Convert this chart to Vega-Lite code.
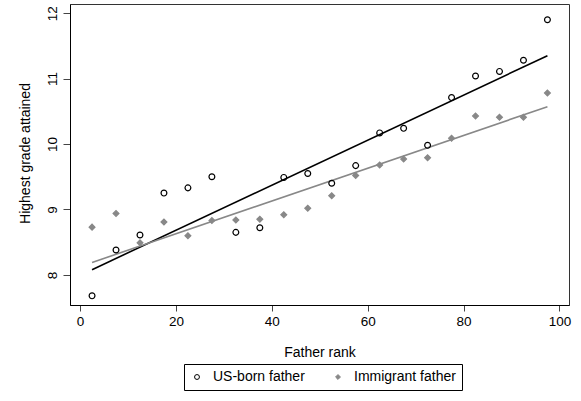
{
  "$schema": "https://vega.github.io/schema/vega-lite/v6.json",
  "width": 499,
  "height": 301,
  "autosize": {"type": "none"},
  "padding": {"left": 70, "top": 4, "right": 12, "bottom": 96},
  "background": "white",
  "config": {
    "view": {"stroke": "#333333", "strokeWidth": 1},
    "font": "Liberation Sans",
    "axis": {
      "grid": false,
      "labelFont": "Liberation Sans",
      "titleFont": "Liberation Sans",
      "labelFontSize": 13.5,
      "titleFontSize": 14,
      "titleFontWeight": "normal",
      "labelColor": "#000000",
      "titleColor": "#000000",
      "domainColor": "#000000",
      "tickColor": "#444444",
      "domainWidth": 1,
      "tickWidth": 1,
      "labelFlush": false,
      "labelOverlap": false
    },
    "legend": {
      "direction": "horizontal",
      "padding": 6,
      "strokeColor": "#000000",
      "cornerRadius": 0,
      "labelFont": "Liberation Sans",
      "labelFontSize": 14,
      "labelColor": "#000000",
      "labelOffset": 9,
      "columnPadding": 26,
      "symbolSize": 24,
      "symbolStrokeWidth": 1
    }
  },
  "datasets": {
    "points": [
      {"rank": 2.5, "grade": 7.68, "series": "US-born father"},
      {"rank": 7.5, "grade": 8.38, "series": "US-born father"},
      {"rank": 12.5, "grade": 8.61, "series": "US-born father"},
      {"rank": 17.5, "grade": 9.25, "series": "US-born father"},
      {"rank": 22.5, "grade": 9.33, "series": "US-born father"},
      {"rank": 27.5, "grade": 9.50, "series": "US-born father"},
      {"rank": 32.5, "grade": 8.65, "series": "US-born father"},
      {"rank": 37.5, "grade": 8.72, "series": "US-born father"},
      {"rank": 42.5, "grade": 9.49, "series": "US-born father"},
      {"rank": 47.5, "grade": 9.55, "series": "US-born father"},
      {"rank": 52.5, "grade": 9.40, "series": "US-born father"},
      {"rank": 57.5, "grade": 9.67, "series": "US-born father"},
      {"rank": 62.5, "grade": 10.17, "series": "US-born father"},
      {"rank": 67.5, "grade": 10.24, "series": "US-born father"},
      {"rank": 72.5, "grade": 9.98, "series": "US-born father"},
      {"rank": 77.5, "grade": 10.71, "series": "US-born father"},
      {"rank": 82.5, "grade": 11.04, "series": "US-born father"},
      {"rank": 87.5, "grade": 11.11, "series": "US-born father"},
      {"rank": 92.5, "grade": 11.28, "series": "US-born father"},
      {"rank": 97.5, "grade": 11.90, "series": "US-born father"},
      {"rank": 2.5, "grade": 8.73, "series": "Immigrant father"},
      {"rank": 7.5, "grade": 8.94, "series": "Immigrant father"},
      {"rank": 12.5, "grade": 8.49, "series": "Immigrant father"},
      {"rank": 17.5, "grade": 8.81, "series": "Immigrant father"},
      {"rank": 22.5, "grade": 8.60, "series": "Immigrant father"},
      {"rank": 27.5, "grade": 8.83, "series": "Immigrant father"},
      {"rank": 32.5, "grade": 8.84, "series": "Immigrant father"},
      {"rank": 37.5, "grade": 8.85, "series": "Immigrant father"},
      {"rank": 42.5, "grade": 8.92, "series": "Immigrant father"},
      {"rank": 47.5, "grade": 9.02, "series": "Immigrant father"},
      {"rank": 52.5, "grade": 9.21, "series": "Immigrant father"},
      {"rank": 57.5, "grade": 9.52, "series": "Immigrant father"},
      {"rank": 62.5, "grade": 9.68, "series": "Immigrant father"},
      {"rank": 67.5, "grade": 9.77, "series": "Immigrant father"},
      {"rank": 72.5, "grade": 9.79, "series": "Immigrant father"},
      {"rank": 77.5, "grade": 10.09, "series": "Immigrant father"},
      {"rank": 82.5, "grade": 10.43, "series": "Immigrant father"},
      {"rank": 87.5, "grade": 10.41, "series": "Immigrant father"},
      {"rank": 92.5, "grade": 10.41, "series": "Immigrant father"},
      {"rank": 97.5, "grade": 10.78, "series": "Immigrant father"}
    ],
    "fits": [
      {"rank": 2.5, "grade": 8.08, "series": "US-born father"},
      {"rank": 97.5, "grade": 11.35, "series": "US-born father"},
      {"rank": 2.5, "grade": 8.19, "series": "Immigrant father"},
      {"rank": 97.5, "grade": 10.57, "series": "Immigrant father"}
    ]
  },
  "encoding": {
    "x": {
      "field": "rank",
      "type": "quantitative",
      "scale": {"domain": [-2.1, 102], "nice": false, "zero": false},
      "axis": {
        "title": "Father rank",
        "values": [0, 20, 40, 60, 80, 100],
        "tickSize": 6,
        "labelPadding": 14,
        "labelBaseline": "alphabetic",
        "titleX": 249.5,
        "titleY": 51,
        "titleAlign": "center",
        "titleBaseline": "alphabetic"
      }
    },
    "y": {
      "field": "grade",
      "type": "quantitative",
      "scale": {"domain": [7.54, 12.14], "nice": false, "zero": false},
      "axis": {
        "title": "Highest grade attained",
        "values": [8, 9, 10, 11, 12],
        "tickSize": 7,
        "labelAngle": -90,
        "labelAlign": "center",
        "labelBaseline": "alphabetic",
        "labelPadding": 7,
        "titleX": -41,
        "titleY": 149,
        "titleAngle": -90,
        "titleAlign": "center",
        "titleBaseline": "alphabetic"
      }
    }
  },
  "layer": [
    {
      "data": {"name": "fits"},
      "mark": {"type": "line", "strokeWidth": 1.6},
      "encoding": {
        "detail": {"field": "series", "type": "nominal"},
        "stroke": {
          "condition": {"test": "datum.series == 'US-born father'", "value": "#000000"},
          "value": "#888888"
        }
      }
    },
    {
      "data": {"name": "points"},
      "mark": {"type": "point", "filled": true, "size": 34, "strokeWidth": 1.2, "opacity": 1},
      "encoding": {
        "shape": {
          "field": "series",
          "type": "nominal",
          "title": null,
          "scale": {"domain": ["US-born father", "Immigrant father"], "range": ["circle", "diamond"]},
          "legend": {"title": null, "orient": "none", "legendX": 114, "legendY": 360, "direction": "horizontal"}
        },
        "stroke": {
          "field": "series",
          "type": "nominal",
          "title": null,
          "scale": {"domain": ["US-born father", "Immigrant father"], "range": ["#000000", "#888888"]},
          "legend": {"title": null, "orient": "none", "legendX": 114, "legendY": 360, "direction": "horizontal"}
        },
        "fill": {
          "field": "series",
          "type": "nominal",
          "title": null,
          "scale": {"domain": ["US-born father", "Immigrant father"], "range": ["transparent", "#888888"]},
          "legend": {"title": null, "orient": "none", "legendX": 114, "legendY": 360, "direction": "horizontal"}
        }
      }
    }
  ]
}
